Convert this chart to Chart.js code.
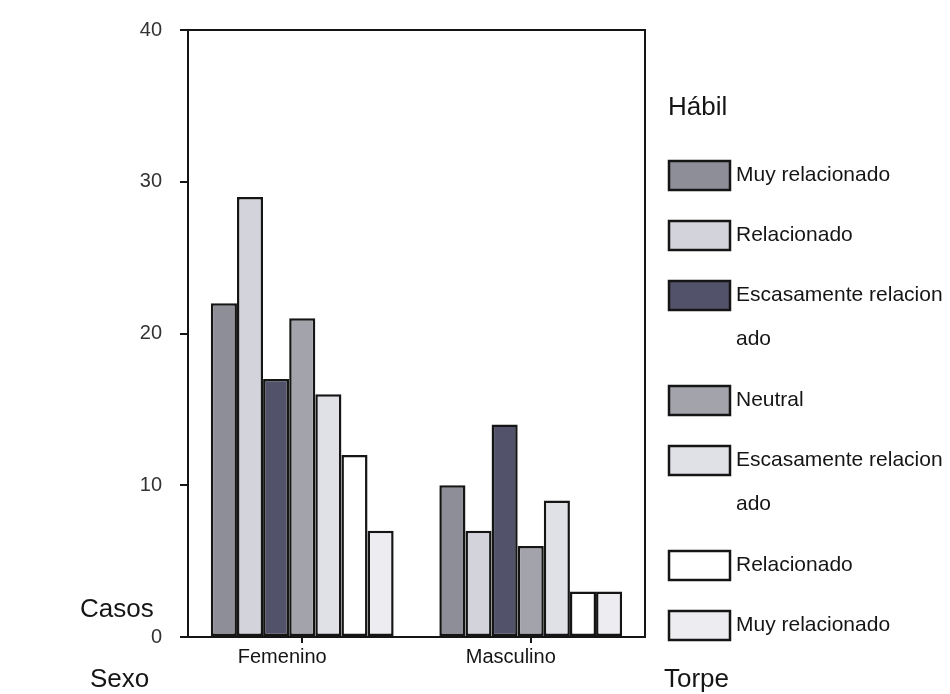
<!DOCTYPE html>
<html>
<head>
<meta charset="utf-8">
<script src="https://cdn.jsdelivr.net/npm/chart.js@4/dist/chart.umd.min.js"></script>
<style>
  html, body { margin: 0; padding: 0; background: #fff; }
  #chart { display: block; }
</style>
</head>
<body>
<canvas id="chart" width="950" height="694"></canvas>
<script>
const categories = ["Femenino", "Masculino"];
const seriesLabels = [
    "Muy relacionado",
    "Relacionado",
    "Escasamente relacionado",
    "Neutral",
    "Escasamente relacionado",
    "Relacionado",
    "Muy relacionado",
];
const femenino = [22, 29, 17, 21, 16, 12, 7];
const masculino = [10, 7, 14, 6, 9, 3, 3];
const yTicks = [0, 10, 20, 30, 40];
const fills = ["#8e8e99", "#d3d3db", "#52526a", "#a3a3ac", "#e0e0e7", "#ffffff", "#ececf1"];

const FONT = "'Liberation Sans', Arial, Helvetica, sans-serif";
const INK = "#151515";

// SPSS-style wrapping of long legend labels
const wrap = (s, n) => {
    const out = [];
    for (let i = 0; i < s.length; i += n) out.push(s.slice(i, i + n));
    return out;
};

const frame = {
    id: "frame",
    afterDatasetsDraw(chart) {
        const { ctx, chartArea: a } = chart;
        ctx.save();
        ctx.strokeStyle = INK;
        ctx.lineWidth = 2;
        ctx.strokeRect(a.left, a.top, a.right - a.left, a.bottom - a.top);
        ctx.restore();
    },
};

const sideText = {
    id: "sideText",
    afterDraw(chart) {
        const ctx = chart.ctx;
        ctx.save();
        ctx.fillStyle = INK;
        ctx.textBaseline = "middle";
        ctx.textAlign = "left";

        ctx.font = "26px " + FONT;
        ctx.fillText("Hábil", 668, 108);
        ctx.fillText("Torpe", 664, 680);
        ctx.fillText("Casos", 80, 610);
        ctx.fillText("Sexo", 90, 680);

        ctx.font = "21px " + FONT;
        let y = 175;
        chart.data.datasets.forEach((ds) => {
            ctx.fillStyle = ds.backgroundColor;
            ctx.fillRect(669, y - 14, 61, 29);
            ctx.strokeStyle = INK;
            ctx.lineWidth = 2.5;
            ctx.strokeRect(669, y - 14, 61, 29);
            ctx.fillStyle = INK;
            const lines = wrap(ds.label, 20);
            lines.forEach((line, i) => ctx.fillText(line, 736, y + i * 44));
            y += 60 + (lines.length - 1) * 45;
        });
        ctx.restore();
    },
};

const datasets = seriesLabels.map((label, i) => ({
    label: label,
    data: [femenino[i], masculino[i]],
    backgroundColor: fills[i],
    borderColor: INK,
    borderWidth: 2.5,
    borderSkipped: false,
}));

const config = {
    type: "bar",
    data: { labels: categories, datasets: datasets },
    options: {
        responsive: false,
        animation: false,
        layout: { padding: { left: 0, right: 305, top: 25, bottom: 0 } },
        datasets: { bar: { categoryPercentage: 0.8, barPercentage: 1.0 } },
        plugins: { legend: { display: false }, tooltip: { enabled: false } },
        scales: {
            x: {
                afterFit: (s) => { s.height = 57; },
                grid: { drawOnChartArea: false, offset: false, tickLength: 6, color: INK, lineWidth: 2 },
                border: { display: true, color: INK, width: 2 },
                ticks: { color: INK, font: { family: FONT, size: 20 }, padding: 2, labelOffset: -20 },
            },
            y: {
                min: 0,
                max: 40,
                afterFit: (s) => { s.width = 188; },
                afterBuildTicks: (s) => { s.ticks = yTicks.map((v) => ({ value: v })); },
                grid: { drawOnChartArea: false, tickLength: 8, color: INK, lineWidth: 2 },
                border: { display: true, color: INK, width: 2 },
                ticks: { color: "#333", font: { family: FONT, size: 20 }, padding: 18 },
            },
        },
    },
    plugins: [frame, sideText],
};

const myChart = new Chart(document.getElementById("chart"), config);
</script>
</body>
</html>
